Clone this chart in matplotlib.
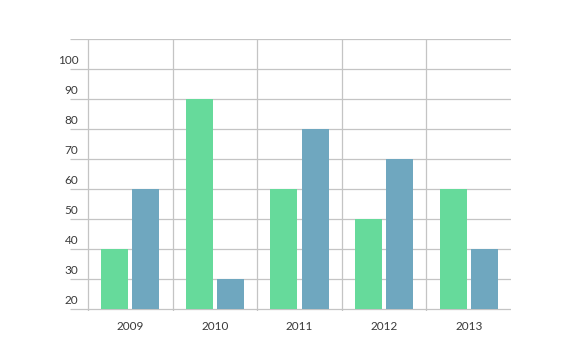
import matplotlib
matplotlib.use("Agg")
import matplotlib.pyplot as plt
import matplotlib.transforms as mtransforms
import numpy as np

categories = ["2009", "2010", "2011", "2012", "2013"]
series_a = [40, 90, 60, 50, 60]
series_b = [60, 30, 80, 70, 40]
y_ticks = [20, 30, 40, 50, 60, 70, 80, 90, 100, 110]
y_labels = ["20", "30", "40", "50", "60", "70", "80", "90", "100", ""]
baseline = 20

plt.rcParams['font.family'] = ['Lato', 'DejaVu Sans']

fig = plt.figure(figsize=(5.7, 3.64), dpi=100)
ax = fig.add_axes([70/570, 53/364, 441/570, 272/364])
ax.set_xlim(-0.713, 4.5)
ax.set_ylim(19.33, 110)
ax.axis('off')

grid_c = '#c4c4c4'
x = np.arange(len(categories))
ax.hlines(y_ticks, -0.713, 4.5, color=grid_c, lw=0.9, zorder=1)
ax.vlines(x - 0.5, 19.33, 110, color=grid_c, lw=0.9, zorder=1)

w = 0.32
gap = 0.024
ax.bar(x - w/2 - gap, np.array(series_a) - baseline, bottom=baseline, width=w,
       color='#66da9b', zorder=2)
ax.bar(x + w/2 + gap, np.array(series_b) - baseline, bottom=baseline, width=w,
       color='#6fa7bf', zorder=2)

trans = mtransforms.offset_copy(ax.transData, fig=fig, x=0, y=8, units='dots')
for yv, lab in zip(y_ticks, y_labels):
    if lab:
        ax.text(-0.615, yv, lab, transform=trans, ha='right', va='center',
                fontsize=8.5, color='#3a3a3a')

trans2 = mtransforms.offset_copy(ax.transData, fig=fig, x=0, y=-15, units='dots')
for xi, lab in zip(x, categories):
    ax.text(xi, 19.33, lab, transform=trans2, ha='center', va='center',
            fontsize=8.5, color='#3a3a3a')

fig.savefig('out.png', dpi=100)
